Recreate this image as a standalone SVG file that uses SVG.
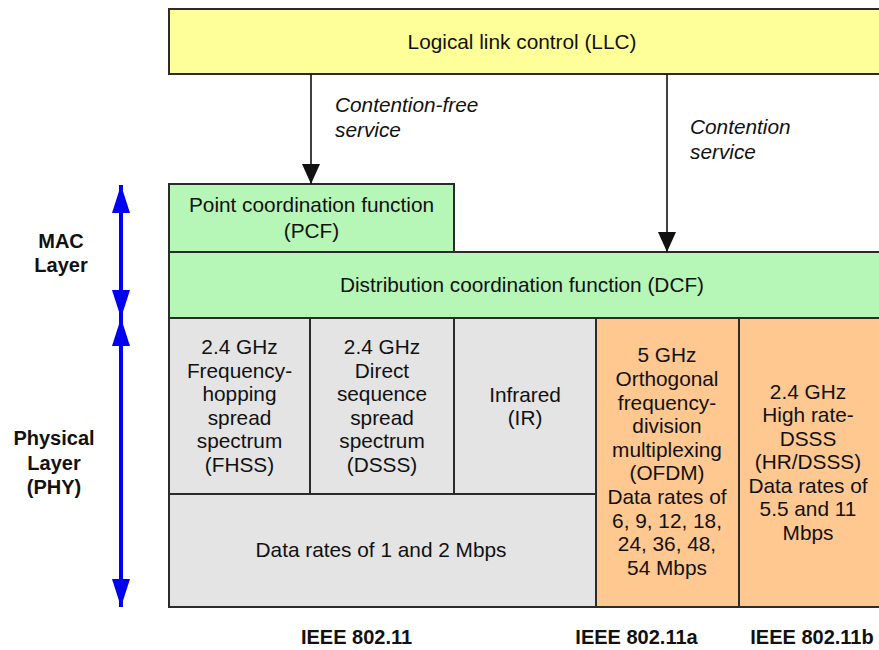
<svg xmlns="http://www.w3.org/2000/svg" width="879" height="650" viewBox="0 0 879 650">
  <style>
    .box { stroke: #2b2b2b; stroke-width: 2; }
    .llc { fill: #FFFF99; }
    .mac { fill: #B6F6B6; }
    .phy { fill: #E4E4E4; }
    .ext { fill: #FFC890; }
    text { font-family: "Liberation Sans", Arial, Helvetica, sans-serif; font-size: 20.8px; fill: #111; text-anchor: middle; }
    .it { font-style: italic; text-anchor: start; }
    .b { font-weight: bold; font-size: 20px; }
    .conn { stroke: #111; stroke-width: 1.6; fill: none; }
    .span { stroke: #0000F5; stroke-width: 4; fill: none; }
  </style>
  <defs>
    <marker id="ah" viewBox="0 0 20 20" refX="20" refY="10" markerWidth="20" markerHeight="20" markerUnits="userSpaceOnUse" orient="auto">
      <path d="M0,1 L20,10 L0,19 Z" fill="#111"/>
    </marker>
    <marker id="bh" viewBox="0 0 28 20" refX="28" refY="10" markerWidth="28" markerHeight="20" markerUnits="userSpaceOnUse" orient="auto-start-reverse">
      <path d="M0,1 L28,10 L0,19 Z" fill="#0000F5"/>
    </marker>
  </defs>

  <!-- Logical link control -->
  <g id="llc">
    <rect class="box llc" x="169" y="9" width="720" height="65"/>
    <text x="522" y="49">Logical link control (LLC)</text>
  </g>

  <!-- MAC layer -->
  <g id="pcf">
    <rect class="box mac" x="169" y="184" width="285" height="68"/>
    <text x="311.5" y="212">Point coordination function</text>
    <text x="311.5" y="238">(PCF)</text>
  </g>
  <g id="dcf">
    <rect class="box mac" x="169" y="252" width="720" height="66"/>
    <text x="522" y="292">Distribution coordination function (DCF)</text>
  </g>

  <!-- Physical layer -->
  <g id="fhss">
    <rect class="box phy" x="169" y="318" width="141" height="176"/>
    <text x="239.5" y="354">2.4 GHz</text>
    <text x="239.5" y="377.5">Frequency-</text>
    <text x="239.5" y="401">hopping</text>
    <text x="239.5" y="424.5">spread</text>
    <text x="239.5" y="448">spectrum</text>
    <text x="239.5" y="471.5">(FHSS)</text>
  </g>
  <g id="dsss">
    <rect class="box phy" x="310" y="318" width="144" height="176"/>
    <text x="382" y="354">2.4 GHz</text>
    <text x="382" y="377.5">Direct</text>
    <text x="382" y="401">sequence</text>
    <text x="382" y="424.5">spread</text>
    <text x="382" y="448">spectrum</text>
    <text x="382" y="471.5">(DSSS)</text>
  </g>
  <g id="ir">
    <rect class="box phy" x="454" y="318" width="142" height="176"/>
    <text x="525" y="402">Infrared</text>
    <text x="525" y="425">(IR)</text>
  </g>
  <g id="rates80211">
    <rect class="box phy" x="169" y="494" width="427" height="113"/>
    <text x="381" y="557">Data rates of 1 and 2 Mbps</text>
  </g>
  <g id="ofdm">
    <rect class="box ext" x="596" y="318" width="143" height="289"/>
    <text x="667" y="362">5 GHz</text>
    <text x="667" y="386">Orthogonal</text>
    <text x="667" y="409.5">frequency-</text>
    <text x="667" y="433">division</text>
    <text x="667" y="456.5">multiplexing</text>
    <text x="667" y="480">(OFDM)</text>
    <text x="667" y="504">Data rates of</text>
    <text x="667" y="527.5">6, 9, 12, 18,</text>
    <text x="667" y="551">24, 36, 48,</text>
    <text x="667" y="574.5">54 Mbps</text>
  </g>
  <g id="hrdsss">
    <rect class="box ext" x="739" y="318" width="150" height="289"/>
    <text x="808" y="399">2.4 GHz</text>
    <text x="808" y="422">High rate-</text>
    <text x="808" y="445.5">DSSS</text>
    <text x="808" y="469">(HR/DSSS)</text>
    <text x="808" y="492.5">Data rates of</text>
    <text x="808" y="516">5.5 and 11</text>
    <text x="808" y="539.5">Mbps</text>
  </g>

  <!-- Service connectors -->
  <g id="connectors">
    <line class="conn" x1="311" y1="74" x2="311" y2="184" marker-end="url(#ah)"/>
    <line class="conn" x1="667" y1="74" x2="667" y2="252" marker-end="url(#ah)"/>
    <text class="it" x="335" y="112">Contention-free</text>
    <text class="it" x="335" y="137">service</text>
    <text class="it" x="690" y="134">Contention</text>
    <text class="it" x="690" y="159">service</text>
  </g>

  <!-- Layer spans -->
  <g id="mac-span">
    <line class="span" x1="121" y1="185" x2="121" y2="318" marker-start="url(#bh)" marker-end="url(#bh)"/>
    <text class="b" x="61" y="248">MAC</text>
    <text class="b" x="61" y="272">Layer</text>
  </g>
  <g id="phy-span">
    <line class="span" x1="121" y1="318" x2="121" y2="607" marker-start="url(#bh)" marker-end="url(#bh)"/>
    <text class="b" x="54" y="445">Physical</text>
    <text class="b" x="54" y="469.5">Layer</text>
    <text class="b" x="54" y="494">(PHY)</text>
  </g>

  <!-- Standard labels -->
  <g id="standards">
    <text class="b" x="356.5" y="644">IEEE 802.11</text>
    <text class="b" x="636.5" y="644">IEEE 802.11a</text>
    <text class="b" x="812" y="644">IEEE 802.11b</text>
  </g>
</svg>
